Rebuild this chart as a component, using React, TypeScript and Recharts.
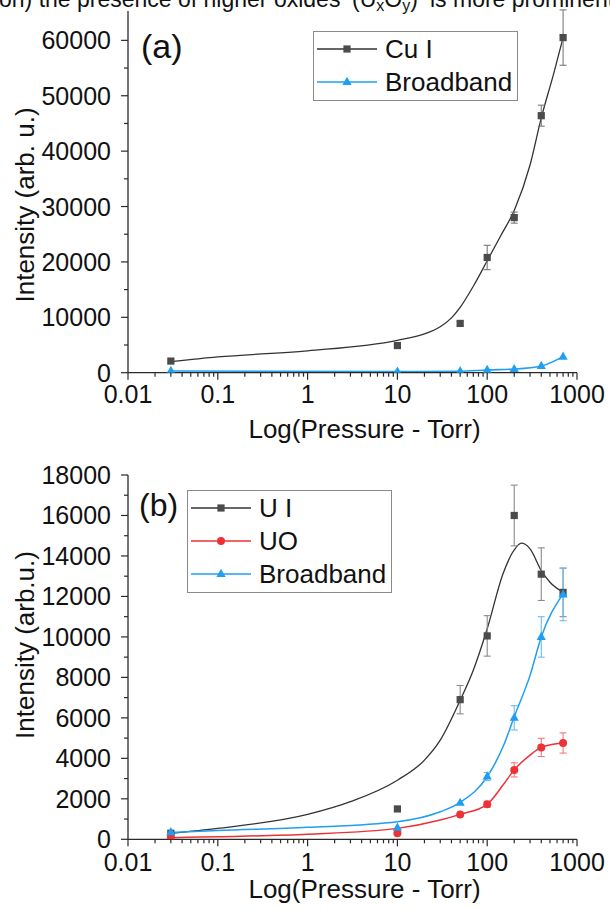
import React from "react";
import {
  ComposedChart,
  ErrorBar,
  Legend,
  Line,
  Scatter,
  XAxis,
  YAxis,
} from "recharts";

// pressures (Torr) where intensities were measured
const PRESSURE = [0.03, 10, 50, 100, 200, 400, 700];

const X_MAJOR = [0.01, 0.1, 1, 10, 100, 1000];
const X_MINOR = [
  0.02, 0.03, 0.04, 0.05, 0.06, 0.07, 0.08, 0.09,
  0.2, 0.3, 0.4, 0.5, 0.6, 0.7, 0.8, 0.9,
  2, 3, 4, 5, 6, 7, 8, 9,
  20, 30, 40, 50, 60, 70, 80, 90,
  200, 300, 400, 500, 600, 700, 800, 900,
];

// panel (a)
const A_Y_MAJOR = [0, 10000, 20000, 30000, 40000, 50000, 60000];
const A_Y_MINOR = [5000, 15000, 25000, 35000, 45000, 55000];
const CU_I = [2100, 4900, 8900, 20800, 28000, 46400, 60500];
const CU_I_ERR = [0, 0, 400, 2200, 1000, 1900, 5000];
const BB_A = [300, 200, 250, 500, 650, 1200, 2900];
const CU_I_FIT_X = [0.03, 0.1, 1, 10, 20, 30, 40, 50, 70, 100, 140, 200, 300, 400, 550, 700];
const CU_I_FIT_Y = [2000, 2850, 3950, 5850, 7000, 8300, 9900, 11800, 15600, 20200, 24600, 29300, 37500, 46000, 54000, 60500];

// panel (b)
const B_Y_MAJOR = [0, 2000, 4000, 6000, 8000, 10000, 12000, 14000, 16000, 18000];
const B_Y_MINOR = [1000, 3000, 5000, 7000, 9000, 11000, 13000, 15000, 17000];
const U_I = [300, 1500, 6900, 10050, 16000, 13100, 12200];
const U_I_ERR = [0, 0, 700, 1000, 1500, 1300, 1200];
const UO = [100, 300, 1230, 1730, 3430, 4540, 4760];
const UO_ERR = [0, 0, 0, 150, 350, 450, 500];
const BB_B = [350, 570, 1800, 3100, 6000, 10000, 12100];
const BB_B_ERR = [0, 0, 0, 200, 600, 1000, 1300];

const FIT_X = [0.03, 0.1, 1, 3, 10, 20, 30, 50, 70, 100, 150, 200, 240, 300, 400, 500, 700];
const U_I_FIT = [300, 540, 1230, 1860, 2920, 3910, 4900, 6870, 8350, 10400, 13120, 14300, 14630, 14350, 13280, 12700, 12210];
const CURVE_X = [0.03, 0.1, 1, 10, 30, 50, 100, 150, 200, 300, 400, 700];
const BB_B_FIT = [330, 430, 590, 870, 1360, 1830, 3090, 4570, 6050, 8100, 10000, 12130];
const UO_FIT = [80, 130, 250, 540, 950, 1230, 1730, 2680, 3430, 4160, 4540, 4760];

const FONT = '"Liberation Sans", Arial, sans-serif';
const AXIS = "#2a2a2a";
const INK = "#111";
const GREY = "#4b4b4b";
const BLUE = "#1f9ef2";
const RED = "#ec3237";

const pts = (xs: number[], ys: number[], es?: number[]) =>
  xs.map((x, i) => ({ x, y: ys[i], e: es ? es[i] : 0 }));

const fmt = (v: number) => String(v);

function FrameTick(props: any) {
  const { x, y, payload, side, majors, gap } = props;
  const v = payload.value;
  const major = majors.includes(v);
  const sw = 1.2;
  if (side === "bottom") {
    const len = major ? 7 : 4;
    return (
      <g>
        <line x1={x} x2={x} y1={y} y2={y + len} stroke={AXIS} strokeWidth={sw} />
        {major && (
          <text x={x} y={y + gap} dy="0.72em" textAnchor="middle" fontSize={25} fill={INK} fontFamily={FONT}>
            {fmt(v)}
          </text>
        )}
      </g>
    );
  }
  if (side === "top") {
    const len = major ? 6 : 3.5;
    return <line x1={x} x2={x} y1={y} y2={y + len} stroke={AXIS} strokeWidth={sw} />;
  }
  if (side === "left") {
    const len = major ? 7 : 4;
    return (
      <g>
        <line x1={x - len} x2={x} y1={y} y2={y} stroke={AXIS} strokeWidth={sw} />
        {major && (
          <text x={x - gap} y={y} dy="0.36em" textAnchor="end" fontSize={25} fill={INK} fontFamily={FONT}>
            {fmt(v)}
          </text>
        )}
      </g>
    );
  }
  const len = major ? 6 : 3.5;
  return <line x1={x - len} x2={x} y1={y} y2={y} stroke={AXIS} strokeWidth={sw} />;
}

function YTitle({ text, cx, cy }: { text: string; cx: number; cy: number }) {
  return (
    <text
      x={cx}
      y={cy}
      transform={`rotate(-90 ${cx} ${cy})`}
      textAnchor="middle"
      dy="0.36em"
      fontSize={26}
      fill={INK}
      fontFamily={FONT}
    >
      {text}
    </text>
  );
}

function Marker({ kind, cx, cy, fill }: { kind: string; cx: number; cy: number; fill: string }) {
  if (kind === "square") return <rect x={cx - 3.6} y={cy - 3.6} width={7.2} height={7.2} fill={fill} />;
  if (kind === "circle") return <circle cx={cx} cy={cy} r={4} fill={fill} />;
  return (
    <polygon
      points={`${cx},${cy - 5.2} ${cx + 4.6},${cy + 3} ${cx - 4.6},${cy + 3}`}
      fill={fill}
    />
  );
}

interface Item {
  name: string;
  kind: string;
  color: string;
  marker: string;
}

function LegendBox({ items, width, height }: { items: Item[]; width: number; height: number }) {
  return (
    <div
      style={{
        width,
        height,
        border: "1.2px solid #8a8a8a",
        boxSizing: "border-box",
        background: "#fff",
      }}
    >
      <svg width={width - 2} height={height - 2} style={{ display: "block" }}>
        {items.map((it, i) => {
          const cy = 17 + i * 33;
          return (
            <g key={it.name}>
              <line x1={3} x2={63} y1={cy} y2={cy} stroke={it.color} strokeWidth={1.3} />
              <Marker kind={it.kind} cx={33} cy={cy} fill={it.marker} />
              <text x={71} y={cy} dy="0.36em" fontSize={26} fill={INK} fontFamily={FONT}>
                {it.name}
              </text>
            </g>
          );
        })}
      </svg>
    </div>
  );
}

const LEGEND_A: Item[] = [
  { name: "Cu I", kind: "square", color: "#333", marker: GREY },
  { name: "Broadband", kind: "triangle", color: BLUE, marker: BLUE },
];
const LEGEND_B: Item[] = [
  { name: "U I", kind: "square", color: "#333", marker: GREY },
  { name: "UO", kind: "circle", color: RED, marker: RED },
  { name: "Broadband", kind: "triangle", color: BLUE, marker: BLUE },
];

function Axes({
  yDomain,
  yMajor,
  yMinor,
  xHeight,
  xGap,
  yTitle,
  yTitleY,
}: {
  yDomain: [number, number];
  yMajor: number[];
  yMinor: number[];
  xHeight: number;
  xGap: number;
  yTitle: string;
  yTitleY: number;
}) {
  return [
    <XAxis
      key="xb"
      xAxisId="x"
      dataKey="x"
      type="number"
      scale="log"
      domain={[0.01, 1000]}
      allowDataOverflow
      ticks={[...X_MAJOR, ...X_MINOR]}
      interval={0}
      tickSize={0}
      tickMargin={0}
      tickLine={false}
      height={xHeight}
      axisLine={{ stroke: AXIS, strokeWidth: 1.3 }}
      tick={<FrameTick side="bottom" majors={X_MAJOR} gap={xGap} />}
      label={{
        value: "Log(Pressure - Torr)",
        position: "insideBottom",
        offset: 12,
        dx: 12,
        fontSize: 26,
        fill: INK,
        fontFamily: FONT,
      }}
    />,
    <XAxis
      key="xt"
      xAxisId="xt"
      orientation="top"
      type="number"
      scale="log"
      domain={[0.01, 1000]}
      allowDataOverflow
      ticks={[...X_MAJOR, ...X_MINOR]}
      interval={0}
      tickSize={0}
      tickMargin={0}
      tickLine={false}
      height={0}
      axisLine={{ stroke: AXIS, strokeWidth: 1.3 }}
      tick={<FrameTick side="top" majors={X_MAJOR} />}
    />,
    <YAxis
      key="yl"
      yAxisId="y"
      dataKey="y"
      type="number"
      domain={yDomain}
      allowDataOverflow
      ticks={[...yMajor, ...yMinor]}
      interval={0}
      tickSize={0}
      tickMargin={0}
      tickLine={false}
      width={128}
      axisLine={{ stroke: AXIS, strokeWidth: 1.3 }}
      tick={<FrameTick side="left" majors={yMajor} gap={17} />}
      label={<YTitle text={yTitle} cx={25} cy={yTitleY} />}
    />,
    <YAxis
      key="yr"
      yAxisId="yr"
      orientation="right"
      type="number"
      domain={yDomain}
      allowDataOverflow
      ticks={[...yMajor, ...yMinor]}
      interval={0}
      tickSize={0}
      tickMargin={0}
      tickLine={false}
      width={0}
      axisLine={{ stroke: AXIS, strokeWidth: 1.3 }}
      tick={<FrameTick side="right" majors={yMajor} />}
    />,
  ];
}

function Series({
  data,
  kind,
  color,
  errColor,
}: {
  data: { x: number; y: number; e: number }[];
  kind: string;
  color: string;
  errColor: string;
}) {
  return (
    <Scatter
      xAxisId="x"
      yAxisId="y"
      data={data}
      dataKey="y"
      isAnimationActive={false}
      shape={(p: any) => <Marker kind={kind} cx={p.cx} cy={p.cy} fill={color} />}
    >
      <ErrorBar dataKey="e" direction="y" width={3.5} stroke={errColor} strokeWidth={1.1} isAnimationActive={false} />
    </Scatter>
  );
}

export default function App() {
  return (
    <div
      style={{
        position: "absolute",
        left: 0,
        top: 0,
        width: 610,
        height: 910,
        overflow: "hidden",
        background: "#fff",
        fontFamily: FONT,
      }}
    >
      <div style={{ position: "absolute", left: 0, top: 0 }}>
        <ComposedChart width={610} height={450} margin={{ top: 11, right: 33, bottom: 0, left: 0 }}>
          {Axes({
            yDomain: [0, 65300],
            yMajor: A_Y_MAJOR,
            yMinor: A_Y_MINOR,
            xHeight: 77.3,
            xGap: 12,
            yTitle: "Intensity (arb. u.)",
            yTitleY: 205,
          })}
          <Line
            xAxisId="x"
            yAxisId="y"
            data={pts(CU_I_FIT_X, CU_I_FIT_Y)}
            dataKey="y"
            type="monotone"
            stroke="#333"
            strokeWidth={1.3}
            dot={false}
            isAnimationActive={false}
          />
          <Line
            xAxisId="x"
            yAxisId="y"
            data={pts(PRESSURE, BB_A)}
            dataKey="y"
            type="monotone"
            stroke={BLUE}
            strokeWidth={1.6}
            dot={false}
            isAnimationActive={false}
          />
          {Series({ data: pts(PRESSURE, CU_I, CU_I_ERR), kind: "square", color: GREY, errColor: "#7a7a7a" })}
          {Series({ data: pts(PRESSURE, BB_A), kind: "triangle", color: BLUE, errColor: "#6bbcf2" })}
          <Legend
            layout="vertical"
            align="center"
            verticalAlign="middle"
            wrapperStyle={{ left: 313, top: 31, width: 205, height: 70 }}
            content={() => <LegendBox items={LEGEND_A} width={205} height={70} />}
          />
        </ComposedChart>
      </div>

      <div style={{ position: "absolute", left: 0, top: 450 }}>
        <ComposedChart width={610} height={460} margin={{ top: 25, right: 33, bottom: 0, left: 0 }}>
          {Axes({
            yDomain: [0, 18000],
            yMajor: B_Y_MAJOR,
            yMinor: B_Y_MINOR,
            xHeight: 70.7,
            xGap: 14,
            yTitle: "Intensity (arb.u.)",
            yTitleY: 195,
          })}
          <Line
            xAxisId="x"
            yAxisId="y"
            data={pts(FIT_X, U_I_FIT)}
            dataKey="y"
            type="monotone"
            stroke="#333"
            strokeWidth={1.3}
            dot={false}
            isAnimationActive={false}
          />
          <Line
            xAxisId="x"
            yAxisId="y"
            data={pts(CURVE_X, UO_FIT)}
            dataKey="y"
            type="monotone"
            stroke={RED}
            strokeWidth={1.5}
            dot={false}
            isAnimationActive={false}
          />
          <Line
            xAxisId="x"
            yAxisId="y"
            data={pts(CURVE_X, BB_B_FIT)}
            dataKey="y"
            type="monotone"
            stroke={BLUE}
            strokeWidth={1.5}
            dot={false}
            isAnimationActive={false}
          />
          {Series({ data: pts(PRESSURE, U_I, U_I_ERR), kind: "square", color: GREY, errColor: "#8a8a8a" })}
          {Series({ data: pts(PRESSURE, UO, UO_ERR), kind: "circle", color: RED, errColor: "#ef7a7d" })}
          {Series({ data: pts(PRESSURE, BB_B, BB_B_ERR), kind: "triangle", color: BLUE, errColor: "#6bbcf2" })}
          <Legend
            layout="vertical"
            align="center"
            verticalAlign="middle"
            wrapperStyle={{ left: 187, top: 40, width: 205, height: 103 }}
            content={() => <LegendBox items={LEGEND_B} width={205} height={103} />}
          />
        </ComposedChart>
      </div>

      <svg
        width={610}
        height={910}
        style={{ position: "absolute", left: 0, top: 0, pointerEvents: "none" }}
      >
        <text y={7} fontSize={23} fill={INK} fontFamily={FONT}>
          <tspan x={-1}>on) the presence of higher oxides</tspan>
          <tspan x={352}>(U</tspan>
          <tspan fontSize={16} dy={4}>x</tspan>
          <tspan dy={-4}>O</tspan>
          <tspan fontSize={16} dy={4}>y</tspan>
          <tspan dy={-4}>)</tspan>
          <tspan x={430}>is more prominent</tspan>
        </text>
        <text x={141} y={58} fontSize={34} fill={INK} fontFamily={FONT}>
          (a)
        </text>
        <text x={139} y={516} fontSize={32} fill={INK} fontFamily={FONT}>
          (b)
        </text>
      </svg>
    </div>
  );
}
